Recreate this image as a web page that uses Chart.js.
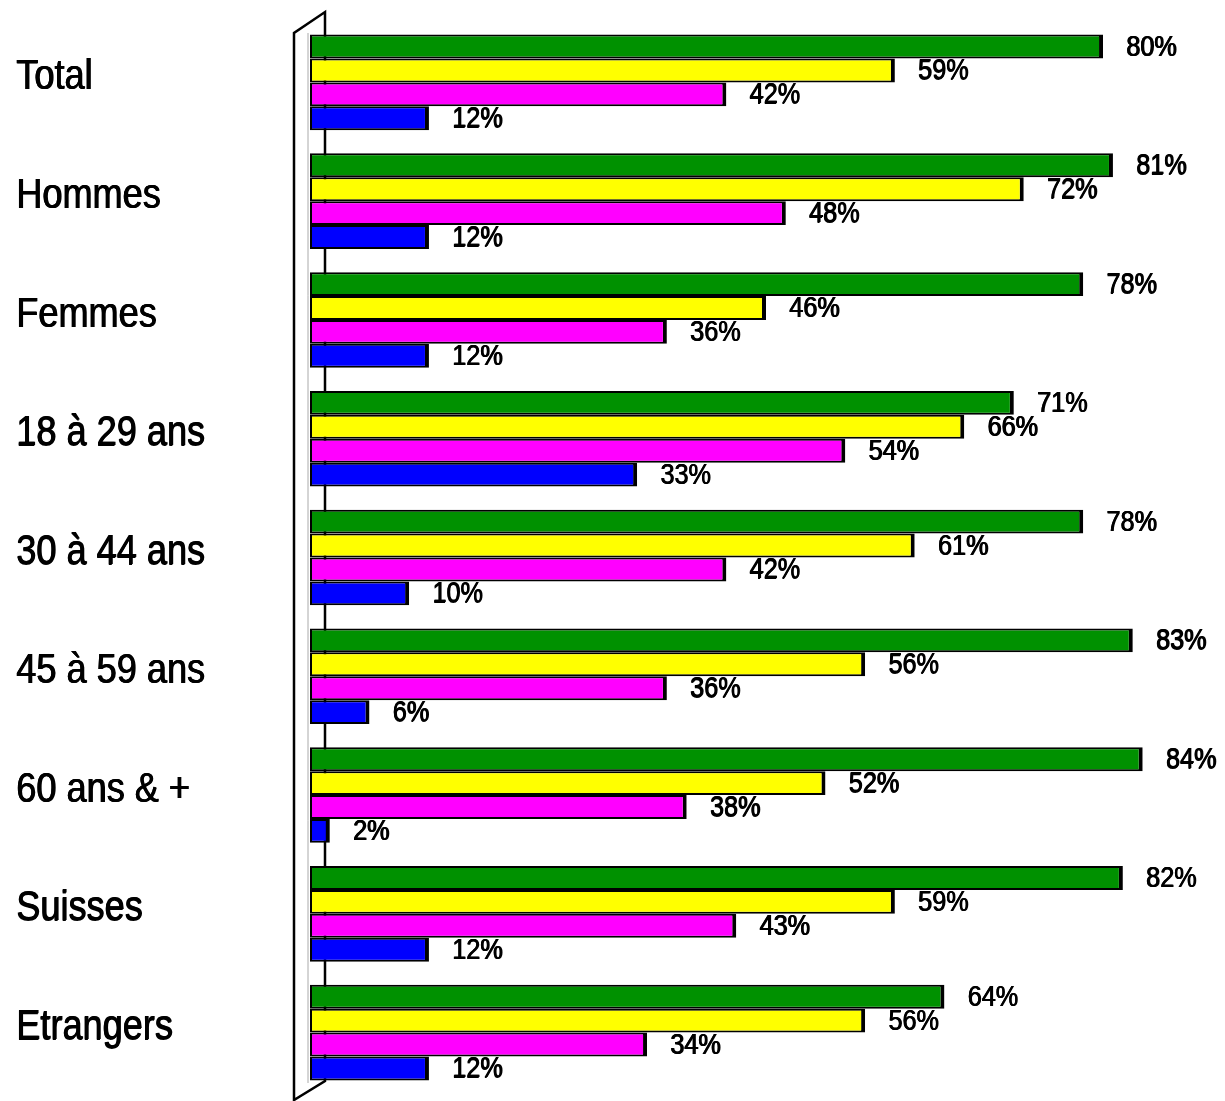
<!DOCTYPE html>
<html>
<head>
    <title>Sondage</title>
    <script src="https://cdn.jsdelivr.net/npm/chart.js"></script>
    <style>
        body { margin: 0; background: #fff; }
        #wrap { width: 1225px; height: 1101px; }
    </style>
</head>
<body>
    <div id="wrap"><canvas id="barChart" width="1225" height="1101"></canvas></div>

    <script>
    const categories = ['Total', 'Hommes', 'Femmes', '18 à 29 ans', '30 à 44 ans', '45 à 59 ans', '60 ans & +', 'Suisses', 'Etrangers'];
    const greenValues = [80, 81, 78, 71, 78, 83, 84, 82, 64];
    const yellowValues = [59, 72, 46, 66, 61, 56, 52, 59, 56];
    const magentaValues = [42, 48, 36, 54, 42, 36, 38, 43, 34];
    const blueValues = [12, 12, 12, 33, 10, 6, 2, 12, 12];

    const sans = "'Liberation Sans', Arial, sans-serif";

    // draw text squeezed horizontally, to look like Arial Narrow (a bit heavy)
    function narrowText(c, text, x, y, size, squeeze) {
        c.save();
        c.translate(x, y);
        c.scale(squeeze, 1);
        c.font = size + 'px ' + sans;
        c.textBaseline = 'middle';
        c.textAlign = 'left';
        c.fillStyle = '#000';
        c.fillText(text, 0, 0);
        c.fillText(text, 1, 0);
        c.fillText(text, 0, 0.5);
        c.restore();
    }

    // the 3D wall on the left
    const wallPlugin = {
        id: 'wall',
        beforeDatasetsDraw(chart) {
            const c = chart.ctx, a = chart.chartArea;
            const xl = a.left - 16, xr = a.left + 15;
            c.save();
            c.strokeStyle = '#000';
            c.lineWidth = 2.5;
            c.beginPath();
            c.moveTo(xl, chart.height);
            c.lineTo(xl, a.top + 10);
            c.lineTo(xr, a.top - 11);
            c.lineTo(xr, a.bottom - 11);
            c.lineTo(xl, a.bottom + 8);
            c.stroke();
            c.strokeStyle = '#aaa';
            c.lineWidth = 1;
            c.beginPath();
            c.moveTo(a.left - 2, a.top + 10);
            c.lineTo(a.left - 2, a.bottom - 9);
            c.stroke();
            c.restore();
        }
    };

    const labelPlugin = {
        id: 'labels',
        afterDatasetsDraw(chart) {
            const c = chart.ctx;
            const yScale = chart.scales.y;
            chart.data.labels.forEach((lab, i) => {
                narrowText(c, lab, 16, yScale.getPixelForValue(i) - 5, 42, 0.86);
            });
            chart.data.datasets.forEach((ds, i) => {
                chart.getDatasetMeta(i).data.forEach((bar, j) => {
                    narrowText(c, ds.data[j] + '%', bar.x + 23, bar.y + 1, 29, 0.87);
                });
            });
        }
    };

    const ctx = document.getElementById('barChart').getContext('2d');
    new Chart(ctx, {
        type: 'bar',
        data: {
            labels: categories,
            datasets: [
                { data: greenValues, backgroundColor: '#009100' },
                { data: yellowValues, backgroundColor: '#ffff00' },
                { data: magentaValues, backgroundColor: '#ff00ff' },
                { data: blueValues, backgroundColor: '#0000ff' }
            ].map(d => Object.assign(d, {
                borderColor: '#000',
                borderWidth: { top: 2, bottom: 2, left: 2, right: 4 },
                borderSkipped: false,
                categoryPercentage: 0.805,
                barPercentage: 1
            }))
        },
        options: {
            indexAxis: 'y',
            responsive: false,
            animation: false,
            layout: { padding: { left: 15, right: 3, top: 23, bottom: 9 } },
            plugins: {
                legend: { display: false },
                tooltip: { enabled: false }
            },
            scales: {
                x: {
                    display: false,
                    min: 0,
                    max: 92
                },
                y: {
                    grid: { display: false },
                    border: { display: false },
                    ticks: { display: false },
                    afterFit: (scale) => {
                        scale.width = 295;
                        scale.paddingTop = 0;
                        scale.paddingBottom = 0;
                    }
                }
            }
        },
        plugins: [wallPlugin, labelPlugin]
    });
    </script>
</body>
</html>
